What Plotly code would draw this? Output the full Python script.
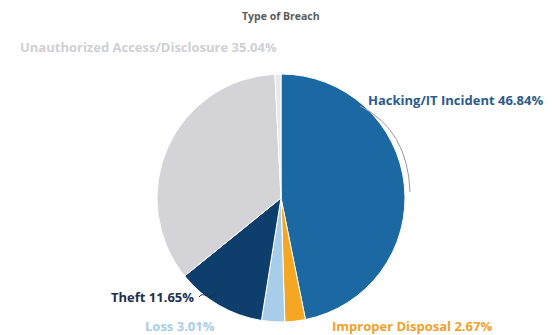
import plotly.graph_objects as go

categories = ["Hacking/IT Incident", "Improper Disposal", "Loss", "Theft",
              "Unauthorized Access/Disclosure", "Other"]
values = [46.84, 2.67, 3.01, 11.65, 35.04, 0.79]
colors = ["#1c68a3", "#f5a623", "#a8cde9", "#0e3e6b", "#d3d3d8", "#e8e8ec"]
label_text = ["Hacking/IT Incident 46.84%", "Improper Disposal 2.67%", "Loss 3.01%",
              "Theft 11.65%", "Unauthorized Access/Disclosure 35.04%", ""]
label_colors = ["#2a5b8c", "#f0a12a", "#a8cde9", "#1d2f4c", "#cfcfd4", "#cccccc"]

OFF = 8  # page body margin
W, H = 559 - OFF, 335 - OFF
cx, cy, r = 281 - OFF, 198 - OFF, 124


def px(x):
    return (x - OFF) / W


def py(y):
    return 1 - (y - OFF) / H


fig = go.Figure(go.Pie(
    labels=categories, values=values, sort=False, direction="clockwise", rotation=0,
    marker=dict(colors=colors, line=dict(color="white", width=1)),
    textinfo="none", hoverinfo="label+percent", showlegend=False,
    domain=dict(x=[(cx - r) / W, (cx + r) / W], y=[(H - cy - r) / H, (H - cy + r) / H]),
))

# label placements (window pixels)
pos = [
    (366, 100, "left"),
    (330, 326, "left"),
    (180, 326, "center"),
    (196, 297, "right"),
    (18, 47, "left"),
]
FONT = "Open Sans, Noto Sans, sans-serif"
anns = []
for i, (x, y, xa) in enumerate(pos):
    anns.append(dict(x=px(x), y=py(y), xref="paper", yref="paper",
                     xanchor=xa, yanchor="middle", showarrow=False,
                     text="<b>%s</b>" % label_text[i],
                     font=dict(family=FONT, size=13, color=label_colors[i])))
anns.append(dict(x=px(281), y=py(16), xref="paper", yref="paper",
                 xanchor="center", yanchor="middle", showarrow=False,
                 text="<b>Type of Breach</b>",
                 font=dict(family=FONT, size=10.5, color="#5a5a5a")))

# connector lines
hack_path = "M %f,%f Q %f,%f %f,%f" % (px(360), py(106), px(408), py(130), px(410), py(192))
theft_path = "M %f,%f C %f,%f %f,%f %f,%f" % (px(199), py(297), px(204), py(290),
                                             px(208), py(302), px(216), py(293))
shapes = [
    dict(type="path", path=hack_path, xref="paper", yref="paper",
         line=dict(color="#9a9aa0", width=1)),
    dict(type="path", path=theft_path, xref="paper", yref="paper",
         line=dict(color="#1d2f4c", width=1)),
]

fig.update_layout(
    width=W, height=H, margin=dict(l=0, r=0, t=0, b=0),
    paper_bgcolor="white", plot_bgcolor="white", annotations=anns, shapes=shapes,
)
fig.write_html("out.html")
